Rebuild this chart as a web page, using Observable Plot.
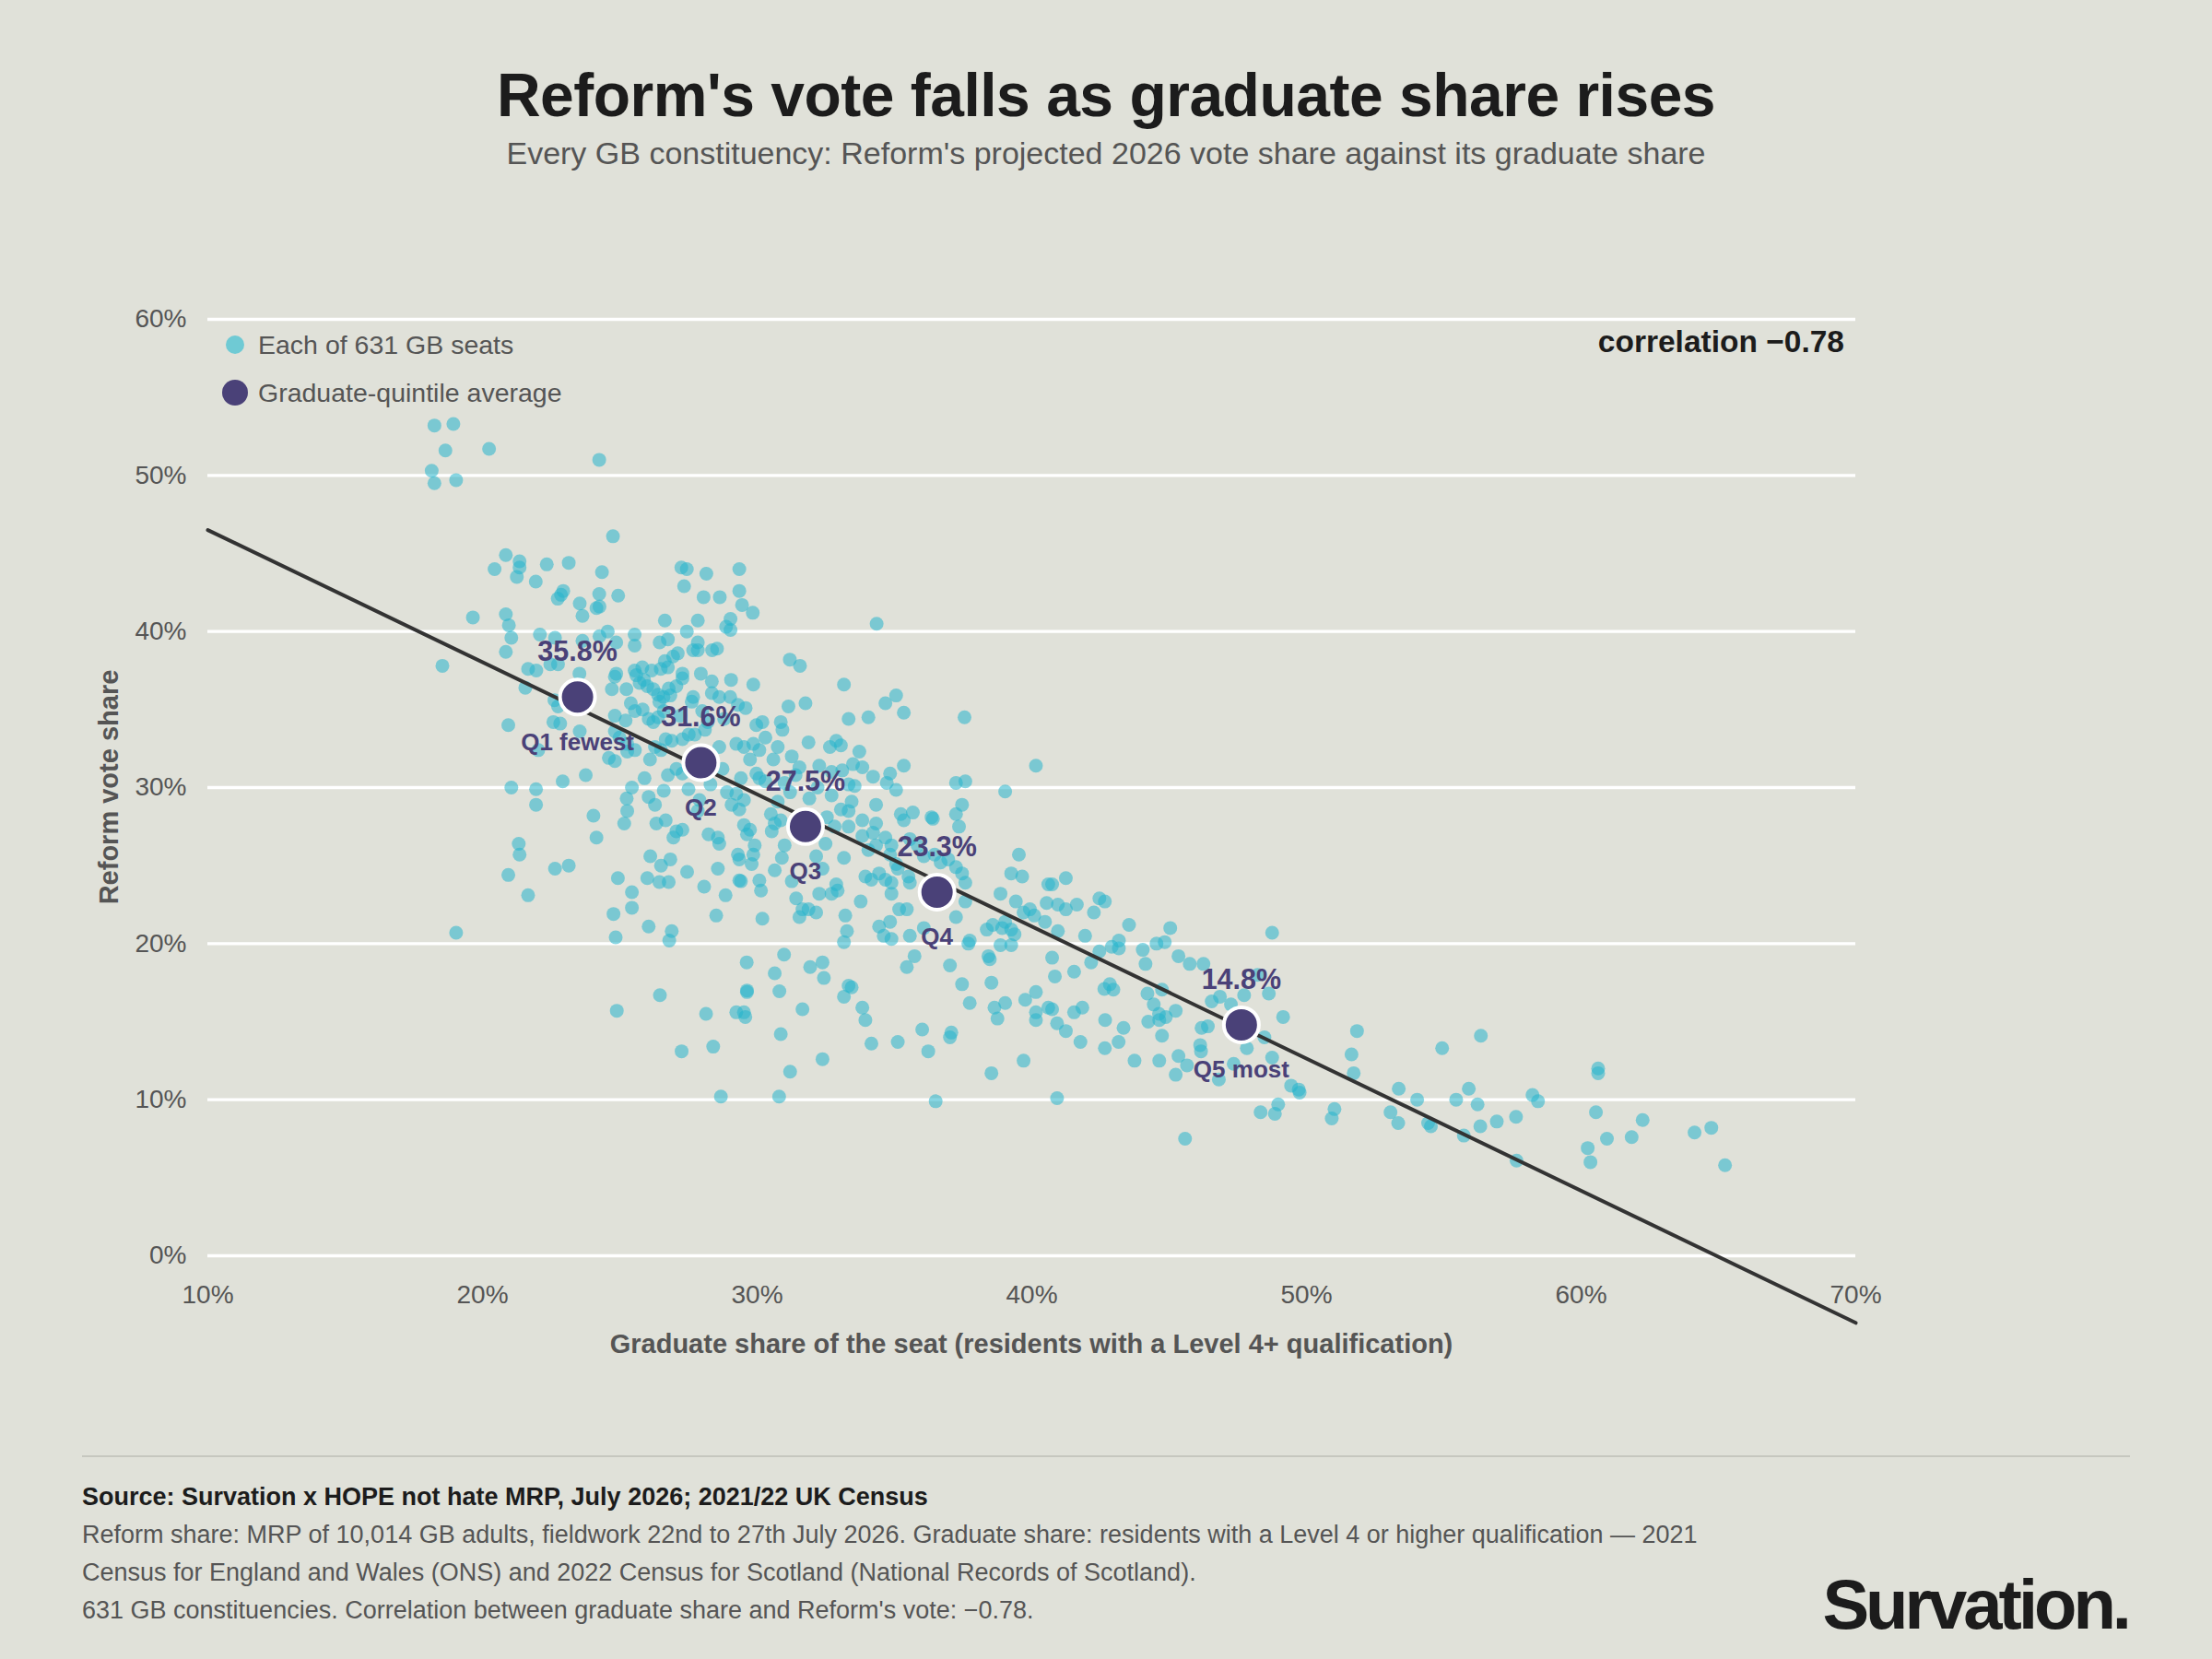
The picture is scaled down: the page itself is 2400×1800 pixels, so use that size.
<!DOCTYPE html>
<html>
<head>
<meta charset="utf-8">
<script src="https://cdn.jsdelivr.net/npm/d3@7"></script>
<script src="https://cdn.jsdelivr.net/npm/@observablehq/plot@0.6"></script>
<style>
  html, body { margin: 0; padding: 0; background: #e0e1d9; }
  #page { position: relative; width: 2400px; height: 1800px; background: #e0e1d9; font-family: "Liberation Sans", Arial, Helvetica, sans-serif; overflow: hidden; }
  .abs { position: absolute; white-space: nowrap; }
  #title { left: 0; width: 2400px; text-align: center; top: 70px; font-size: 66px; line-height: 66px; font-weight: bold; color: #1c1c1c; letter-spacing: -0.5px; }
  #subtitle { left: 0; width: 2400px; text-align: center; top: 149px; font-size: 34px; line-height: 34px; color: #555; }
  #chart { position: absolute; left: 0; top: 250px; }
  .leg { font-size: 28.5px; line-height: 28px; color: #555; }
  .legdot { position: absolute; border-radius: 50%; }
  #corr { right: 399px; top: 354px; font-size: 33.5px; line-height: 34px; font-weight: bold; color: #1c1c1c; }
  #ylab { left: 118px; top: 854px; transform: translate(-50%, -50%) rotate(-90deg); font-size: 29px; line-height: 29px; font-weight: bold; color: #555; }
  #xlab { left: 0; width: 2238px; text-align: center; top: 1444px; font-size: 29px; line-height: 29px; font-weight: bold; color: #555; }
  #rule { position: absolute; left: 89px; top: 1579px; width: 2222px; height: 2px; background: #c6c7bf; }
  .foot { left: 89px; font-size: 27px; line-height: 27px; color: #555; }
  #source { font-weight: bold; color: #1c1c1c; }
  #logo { right: 91px; top: 1703px; font-size: 76px; line-height: 76px; font-weight: bold; color: #1c1c1c; letter-spacing: -4px; }
</style>
</head>
<body>
<div id="page">
  <div id="title" class="abs">Reform's vote falls as graduate share rises</div>
  <div id="subtitle" class="abs">Every GB constituency: Reform's projected 2026 vote share against its graduate share</div>
  <div id="chart"></div>
  <div class="legdot" style="left:245px; top:364px; width:20px; height:20px; background:#6fcad4;"></div>
  <div class="abs leg" style="left:280px; top:360px;">Each of 631 GB seats</div>
  <div class="legdot" style="left:241px; top:412px; width:28px; height:28px; background:#4a4178;"></div>
  <div class="abs leg" style="left:280px; top:412px;">Graduate-quintile average</div>
  <div id="corr" class="abs">correlation −0.78</div>
  <div id="ylab" class="abs">Reform vote share</div>
  <div id="xlab" class="abs">Graduate share of the seat (residents with a Level 4+ qualification)</div>
  <div id="rule"></div>
  <div id="source" class="abs foot" style="top:1611px;">Source: Survation x HOPE not hate MRP, July 2026; 2021/22 UK Census</div>
  <div class="abs foot" style="top:1652px;">Reform share: MRP of 10,014 GB adults, fieldwork 22nd to 27th July 2026. Graduate share: residents with a Level 4 or higher qualification — 2021</div>
  <div class="abs foot" style="top:1693px;">Census for England and Wales (ONS) and 2022 Census for Scotland (National Records of Scotland).</div>
  <div class="abs foot" style="top:1734px;">631 GB constituencies. Correlation between graduate share and Reform's vote: −0.78.</div>
  <div id="logo" class="abs">Survation.</div>
</div>
<script>
// ---- Data ----
const xTicks = [10, 20, 30, 40, 50, 60, 70];
const yTicks = [0, 10, 20, 30, 40, 50, 60];

// Each seat: [graduate share %, Reform vote share %]
const seatPoints = [
[18.25,53.2],[18.94,53.3],[18.65,51.6],[20.24,51.7],[18.15,50.3],[18.25,49.5],[19.04,49.7],[24.25,51.0],[24.75,46.1],
[20.85,44.9],[20.44,44.0],[21.35,44.5],[21.35,44.1],[21.25,43.5],[22.34,44.3],[23.14,44.4],[21.94,43.2],[24.35,43.8],
[22.94,42.6],[22.86,42.35],[22.74,42.1],[23.54,41.8],[24.25,42.4],[24.94,42.3],[24.15,41.5],[24.26,41.6],[23.64,41.0],
[27.24,44.1],[27.44,44.0],[28.15,43.7],[27.34,42.9],[29.35,44.0],[29.35,42.6],[28.05,42.2],[28.64,42.2],[29.45,41.7],
[29.84,41.2],[19.65,40.9],[20.85,41.1],[20.96,40.4],[21.05,39.6],[20.85,38.7],[18.54,37.8],[26.64,40.7],[27.84,40.7],
[27.44,40.0],[29.03,40.8],[28.87,40.3],[29.03,40.1],[25.54,39.8],[25.54,39.1],[26.45,39.3],[26.75,39.5],[27.84,39.3],
[27.67,38.8],[27.84,38.8],[28.36,38.8],[28.54,38.9],[27.11,38.6],[26.94,38.4],[26.64,38.1],[26.75,37.7],[22.09,39.8],
[22.64,39.6],[23.64,39.4],[24.26,39.7],[24.56,40.0],[24.87,39.3],[31.19,38.2],[21.66,37.6],[21.96,37.5],[22.47,37.9],
[22.75,37.9],[23.53,37.3],[24.87,37.3],[25.54,37.5],[25.82,37.7],[26.16,37.5],[26.49,37.6],[27.28,37.3],[27.95,37.3],
[21.56,36.4],[22.62,35.6],[22.75,35.2],[22.58,34.2],[22.83,34.1],[20.94,34.0],[22.03,32.4],[23.54,33.6],[22.92,30.4],
[23.76,30.8],[21.05,30.0],[21.95,29.9],[21.95,28.9],[24.82,37.1],[24.71,36.3],[25.24,36.3],[25.6,37.2],[25.88,36.9],
[26.22,36.3],[26.39,35.95],[26.44,35.5],[26.59,35.8],[26.78,36.35],[27.06,36.5],[27.28,37.0],[28.35,36.8],[28.35,36.05],
[29.05,36.9],[29.86,36.6],[28.62,35.8],[29.02,35.8],[29.3,35.3],[29.58,35.1],[27.67,35.8],[27.62,35.5],[24.82,34.6],
[25.21,34.3],[25.55,34.9],[25.83,35.0],[26.05,34.4],[26.22,34.2],[26.39,34.5],[24.82,33.6],[24.99,33.2],[25.27,32.8],
[25.55,32.4],[26.28,32.6],[26.5,32.4],[26.67,33.1],[26.89,33.0],[27.28,33.1],[27.51,33.4],[27.73,33.4],[24.6,31.9],
[24.82,31.7],[25.27,32.3],[26.75,30.8],[27.06,31.2],[27.28,30.9],[27.84,31.2],[28.62,32.6],[28.74,31.2],[29.24,32.8],
[29.52,32.6],[29.86,32.8],[30.08,32.4],[30.3,33.2],[30.19,34.2],[29.97,34.0],[29.74,31.8],[29.97,30.9],[30.08,30.6],
[30.3,30.4],[29.41,30.6],[29.07,28.9],[29.35,28.6],[29.24,29.6],[29.52,29.2],[25.25,29.3],[25.27,28.5],[25.16,27.7],
[25.44,30.0],[26.05,29.4],[26.28,28.9],[26.33,27.7],[26.67,27.9],[27.06,27.2],[27.28,27.3],[26.95,26.8],[27.84,28.5],
[28.23,27.0],[28.57,26.8],[28.62,26.4],[29.52,27.6],[29.74,27.3],[29.63,27.0],[29.91,26.3],[29.86,25.7],[29.8,25.1],
[29.3,25.7],[29.35,25.4],[29.41,24.0],[24.04,28.2],[24.15,26.8],[21.32,26.4],[21.35,25.7],[20.94,24.4],[22.64,24.8],
[23.14,25.0],[21.66,23.1],[24.93,24.2],[25.44,23.3],[25.44,22.3],[24.77,21.9],[26.11,25.6],[26.5,25.0],[26.84,25.4],
[26.0,24.2],[26.44,23.95],[26.78,23.95],[27.45,24.6],[28.07,23.65],[28.57,24.8],[28.85,23.1],[29.35,24.05],[30.08,24.05],
[30.14,23.4],[28.51,21.8],[30.19,21.6],
[25.72,36.7],[26.0,36.5],[26.84,35.9],[25.4,35.4],[26.6,34.9],[27.2,34.6],[28.0,34.9],[28.2,34.2],[28.8,34.4],
[27.7,32.1],[28.1,33.7],[26.1,31.8],[25.9,30.6],[28.3,30.2],[28.9,29.7],[27.5,29.9],[26.6,29.8],[27.9,29.2],
[31.14,35.2],[31.76,35.4],[33.33,34.4],[34.05,34.5],[34.67,35.4],[35.34,34.8],[37.55,34.5],[30.86,34.2],[30.92,33.7],
[30.75,32.6],[31.26,32.0],[31.87,32.9],[32.65,32.6],[32.88,33.0],[33.05,32.7],[33.72,32.3],[30.59,31.8],[31.54,31.3],
[32.26,31.4],[32.71,31.0],[33.1,31.1],[33.49,31.5],[33.83,31.3],[34.22,30.7],[34.84,30.9],[35.34,31.4],[33.33,30.2],
[33.55,30.1],[34.72,30.3],[35.06,29.85],[37.24,30.3],[37.58,30.4],[39.03,29.75],[40.15,31.4],[32.71,29.5],[33.05,28.6],
[33.44,29.1],[33.33,28.5],[34.33,28.9],[33.83,27.9],[34.33,27.7],[35.23,28.3],[35.67,28.4],[35.34,27.9],[36.35,28.1],
[36.4,28.0],[37.24,28.3],[37.46,28.9],[37.35,27.5],[30.64,27.7],[30.86,27.9],[30.53,27.2],[32.54,28.1],[32.82,27.5],
[32.49,26.4],[32.15,25.6],[32.38,24.8],[33.16,25.5],[33.33,27.5],[33.83,26.9],[34.22,27.1],[34.33,26.3],[34.05,26.0],
[34.67,26.8],[34.89,26.3],[34.84,25.7],[35.56,26.7],[35.84,26.3],[36.07,25.6],[36.46,25.7],[36.68,25.2],[36.96,25.4],
[35.06,25.1],[35.12,24.8],[37.24,24.9],[37.46,24.5],[37.58,23.9],[30.64,24.7],[31.26,24.0],[31.42,22.9],[31.65,22.2],
[31.87,22.2],[32.15,22.0],[31.54,21.7],[32.26,23.2],[32.71,23.2],[32.88,23.8],[32.93,23.4],[33.77,22.7],[33.21,21.8],
[33.27,20.8],[33.16,20.1],[33.94,24.3],[34.16,24.1],[34.44,24.5],[34.67,24.1],[34.89,23.9],[34.89,23.2],[35.51,24.3],
[35.56,23.9],[35.17,22.2],[35.45,22.2],[34.84,21.4],[34.44,21.1],[34.61,20.5],[34.89,20.3],[35.56,20.5],[36.07,21.0],
[37.24,21.7],[37.58,22.7],[37.69,20.0],[37.74,20.2],[35.73,19.2],[35.45,18.5],[37.02,18.6],[38.86,23.2],[39.25,24.5],
[39.65,24.3],[39.53,25.7],[39.42,22.7],[39.7,22.0],[39.93,22.2],[40.09,21.8],[40.48,21.4],[40.54,22.6],[40.6,23.8],
[38.36,20.9],[38.58,21.2],[38.92,21.0],[39.03,21.4],[39.25,20.9],[39.37,20.6],[39.25,19.9],[38.86,19.9],[38.47,19.0],
[38.42,19.2],[30.98,19.3],[30.64,18.1],[30.81,16.95],[31.93,18.5],[32.38,18.8],[32.43,17.8],[31.65,15.8],[30.86,14.2],
[31.2,11.8],[32.38,12.6],[33.33,17.3],[33.44,17.2],[33.16,16.6],[33.83,15.9],[33.94,15.1],[34.16,13.6],[35.12,13.7],
[36.01,14.5],[36.23,13.1],[37.07,14.3],[37.02,14.0],[37.46,17.4],[37.74,16.2],[38.53,17.5],[38.64,15.9],[38.75,15.2],
[39.03,16.2],[39.76,16.4],[40.15,16.9],[40.15,15.6],[40.15,15.1],[39.7,12.5],[38.53,11.7],[40.6,15.9],
[31.0,30.3],[31.4,30.8],[30.75,29.1],[31.2,29.7],[30.5,28.3],[31.9,29.3],[32.2,30.0],[31.0,26.3],[31.9,26.9],[30.9,25.5],
[31.56,37.8],[33.16,36.6],[35.06,35.9],[34.35,40.5],
[24.85,20.4],[26.8,20.2],[26.89,20.8],[26.05,21.1],[26.46,16.7],[24.89,15.7],[28.14,15.5],[29.24,15.6],[29.52,15.6],
[29.57,15.3],[29.62,18.8],[29.63,17.0],[29.63,16.9],[27.25,13.1],[28.4,13.4],[28.68,10.2],[30.8,10.2],
[19.04,20.7],[36.5,9.9],
[40.74,23.8],[41.24,24.2],[40.95,22.5],[41.24,22.2],[41.64,22.5],[42.26,22.0],[42.46,22.9],[42.66,22.7],[40.95,20.8],
[41.94,20.5],[43.54,21.2],[45.04,21.0],[44.54,20.0],[44.84,20.1],[40.74,19.1],[42.46,19.5],[42.91,19.8],[43.17,20.2],
[43.17,19.7],[44.04,19.6],[44.14,18.7],[45.34,19.2],[45.75,18.7],[46.25,18.7],[42.16,18.8],[40.84,17.9],[41.54,18.2],
[42.64,17.1],[42.84,17.4],[42.97,17.05],[44.21,16.8],[44.74,17.05],[44.44,16.1],[40.74,15.8],[41.54,15.6],[41.84,15.9],
[42.67,15.1],[43.34,14.6],[40.92,14.9],[41.24,14.4],[41.77,13.7],[42.66,13.3],[43.16,13.7],[44.24,15.0],[44.63,15.5],
[44.88,15.3],[45.24,15.7],[44.64,15.1],[44.74,14.1],[43.74,12.5],[44.64,12.5],[45.34,12.8],[45.24,11.6],[45.65,12.2],
[46.18,14.6],[46.41,14.7],[46.13,13.5],[46.16,13.1],[46.55,16.3],[46.85,16.6],[47.25,16.1],[47.73,16.7],[48.22,18.0],
[48.63,16.8],[49.15,15.3],[47.83,13.3],[48.47,14.0],[46.81,11.3],[47.35,12.3],[48.75,20.7],[48.75,12.7],[49.44,10.9],
[49.75,10.45],[49.72,10.65],[48.97,9.7],[48.33,9.2],[48.85,9.1],[40.92,10.1],[45.58,7.5],[51.02,9.4],[50.92,8.8],
[51.84,14.4],[51.64,12.9],[51.72,11.7],[53.36,10.7],[54.03,10.0],[53.06,9.2],[53.34,8.5],[54.43,8.5],[54.53,8.3],
[54.94,13.3],[55.45,10.0],[55.91,10.7],[56.23,9.7],[56.35,14.1],[56.33,8.3],[56.93,8.6],[55.73,7.7],[57.63,8.9],
[57.65,6.1],[58.23,10.3],[58.43,9.9],[60.62,12.0],[60.62,11.7],[60.54,9.2],[60.24,6.9],[60.34,6.0],[60.94,7.5],
[61.84,7.6],[62.24,8.7],[64.13,7.9],[64.74,8.2],[65.24,5.8]
];

// Graduate-quintile averages
const quintileNames  = ["Q1 fewest", "Q2", "Q3", "Q4", "Q5 most"];
const quintileGrad   = [23.46, 27.95, 31.76, 36.55, 47.63];
const quintileReform = [35.8, 31.6, 27.5, 23.3, 14.8];

// Fitted trend line end points
const trendGrad   = [10, 70];
const trendReform = [46.5, -4.3];

// ---- Build tables ----
const seats = seatPoints.map(([g, r]) => ({grad: g, reform: r}));
const quint = quintileNames.map((n, i) => ({name: n, grad: quintileGrad[i], reform: quintileReform[i]}));
const trend = trendGrad.map((g, i) => ({grad: g, reform: trendReform[i]}));

const pct = d => d + "%";

const chart = Plot.plot({
  width: 2400,
  height: 1250,
  marginTop: 96,
  marginBottom: 138,
  marginLeft: 225,
  marginRight: 387,
  style: {background: "transparent", fontFamily: "'Liberation Sans', Arial, sans-serif", fontSize: "28px", color: "#555", overflow: "visible"},
  x: {domain: [10, 70]},
  y: {domain: [0, 60]},
  marks: [
    Plot.ruleY(yTicks, {stroke: "#ffffff", strokeWidth: 3.3}),
    Plot.axisX({ticks: xTicks, tickSize: 0, tickPadding: 32, tickFormat: pct, label: null}),
    Plot.axisY({ticks: yTicks, tickSize: 0, tickPadding: 23, tickFormat: pct, label: null}),
    Plot.dot(seats, {x: "grad", y: "reform", r: 7.5, fill: "#26b5cc", fillOpacity: 0.55, stroke: "none"}),
    Plot.line(trend, {x: "grad", y: "reform", stroke: "#333333", strokeWidth: 4}),
    Plot.dot(quint, {x: "grad", y: "reform", r: 19, fill: "#4a4178", stroke: "#ffffff", strokeWidth: 4}),
    Plot.text(quint, {x: "grad", y: "reform", text: d => d.reform.toFixed(1) + "%", dy: -49, fontWeight: "bold", fontSize: 30.5, fill: "#4a4178"}),
    Plot.text(quint, {x: "grad", y: "reform", text: "name", dy: 49, fontWeight: "bold", fontSize: 26, fill: "#4a4178"})
  ]
});
document.getElementById("chart").appendChild(chart);
</script>
</body>
</html>
